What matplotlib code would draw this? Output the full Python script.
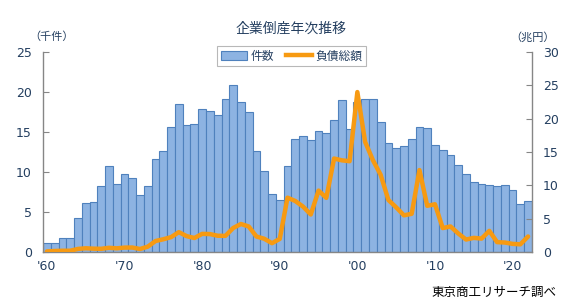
import matplotlib
matplotlib.use("Agg")
import matplotlib.pyplot as plt
from matplotlib.lines import Line2D
from matplotlib.patches import Patch

plt.rcParams['font.family'] = ['DejaVu Sans', 'Noto Sans CJK JP']

years = list(range(1960, 2023))
# 件数 (千件)
counts = [1.17, 1.10, 1.78, 1.74, 4.21, 6.14, 6.19, 8.19, 10.78, 8.52,
          9.77, 9.21, 7.14, 8.20, 11.68, 12.61, 15.64, 18.47, 15.88, 16.03,
          17.88, 17.61, 17.12, 19.16, 20.84, 18.81, 17.48, 12.66, 10.12, 7.23,
          6.47, 10.72, 14.07, 14.56, 14.06, 15.11, 14.83, 16.46, 18.99, 15.35,
          18.77, 19.16, 19.09, 16.26, 13.68, 13.00, 13.25, 14.09, 15.65, 15.48,
          13.32, 12.73, 12.12, 10.86, 9.73, 8.81, 8.45, 8.41, 8.24, 8.38,
          7.77, 6.03, 6.43]
# 負債総額 (兆円)
debt = [0.09, 0.15, 0.19, 0.19, 0.46, 0.56, 0.50, 0.48, 0.63, 0.55,
        0.66, 0.67, 0.45, 0.80, 1.65, 1.91, 2.23, 2.98, 2.38, 2.10,
        2.72, 2.69, 2.44, 2.42, 3.60, 4.20, 3.83, 2.32, 1.99, 1.32,
        1.96, 8.15, 7.65, 6.81, 5.63, 9.21, 8.12, 14.02, 13.75, 13.62,
        23.99, 16.52, 13.78, 11.58, 7.80, 6.70, 5.50, 5.73, 12.29, 6.93,
        7.16, 3.59, 3.83, 2.78, 1.87, 2.12, 2.01, 3.17, 1.48, 1.42,
        1.22, 1.15, 2.33]
xtick_years = [1960, 1970, 1980, 1990, 2000, 2010, 2020]
xtick_labels = ["'60", "'70", "'80", "'90", "'00", "'10", "'20"]

text_color = '#243F60'
bar_color = '#8DB3E2'
bar_edge = '#4F81BD'
line_color = '#F79A12'
spine_color = '#868686'
jp = ['Noto Sans CJK JP', 'DejaVu Sans']

fig = plt.figure(figsize=(5.78, 3.07), dpi=100)
ax = fig.add_axes([43 / 578, 55 / 307, 489 / 578, 200 / 307])
ax2 = ax.twinx()

ax.bar(years, counts, width=1.0, color=bar_color, edgecolor=bar_edge, linewidth=0.8)
ax2.plot(years, debt, color=line_color, linewidth=3.2, solid_joinstyle='round',
         solid_capstyle='round')

ax.set_xlim(1959.5, 2022.5)
ax.set_ylim(0, 25)
ax2.set_ylim(0, 30)
ax.set_yticks([0, 5, 10, 15, 20, 25])
ax2.set_yticks([0, 5, 10, 15, 20, 25, 30])
ax.set_xticks(xtick_years)
ax.set_xticklabels(xtick_labels)

for a in (ax, ax2):
    for s in a.spines.values():
        s.set_visible(False)
ax.spines['left'].set_visible(True)
ax.spines['bottom'].set_visible(True)
ax2.spines['right'].set_visible(True)
for s in (ax.spines['left'], ax.spines['bottom'], ax2.spines['right']):
    s.set_color(spine_color)
    s.set_linewidth(1.0)

ax.tick_params(axis='y', direction='in', length=4, color=spine_color,
               labelcolor=text_color, labelsize=9, pad=8)
ax.tick_params(axis='x', length=0, labelcolor=text_color, labelsize=9, pad=6)
ax2.tick_params(axis='y', direction='in', length=4, color=spine_color,
                labelcolor=text_color, labelsize=9, pad=8)

fig.text(0.503, 0.905, '企業倒産年次推移', ha='center', va='center',
         fontsize=10, color=text_color, family=jp)
fig.text(52 / 578, 1 - 37 / 307, '（千件）', ha='center', va='center',
         fontsize=8, color=text_color, family=jp)
fig.text(533 / 578, 1 - 37 / 307, '（兆円）', ha='center', va='center',
         fontsize=8, color=text_color, family=jp)
fig.text(556 / 578, 1 - 292 / 307, '東京商工リサーチ調べ', ha='right', va='center',
         fontsize=9, color='black', family=jp)

handles = [Patch(facecolor=bar_color, edgecolor=bar_edge, linewidth=0.8),
           Line2D([], [], color=line_color, linewidth=3.2)]
leg = ax2.legend(handles, ['件数', '負債総額'], loc='upper center',
                 bbox_to_anchor=(291.5 / 578, 1 - 46 / 307),
                 bbox_transform=fig.transFigure, ncol=2, frameon=True,
                 fancybox=False, edgecolor='#A6A6A6',
                 prop={'family': jp, 'size': 8.5},
                 handlelength=2.2, handleheight=0.7, columnspacing=1.0,
                 handletextpad=0.3, borderpad=0.3, borderaxespad=0,
                 labelcolor=text_color)
leg.get_frame().set_linewidth(0.8)

fig.savefig('out.png', dpi=100)
